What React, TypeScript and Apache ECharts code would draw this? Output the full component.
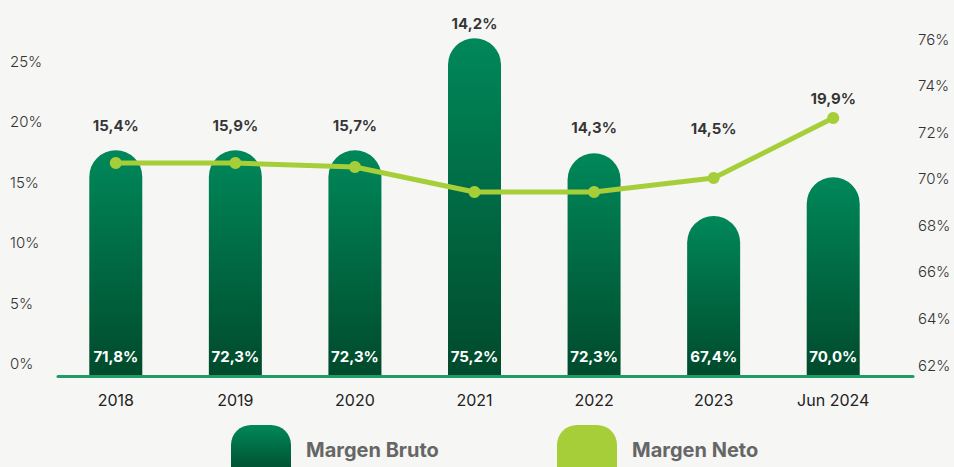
import React, { useEffect, useRef } from 'react';
import * as echarts from 'echarts';

// Categories
const categories = ['2018', '2019', '2020', '2021', '2022', '2023', 'Jun 2024'];
// Values printed on the chart
const margenBruto = [71.8, 72.3, 72.3, 75.2, 72.3, 67.4, 70.0];
const margenNeto = [15.4, 15.9, 15.7, 14.2, 14.3, 14.5, 19.9];
// Heights as drawn in the picture (for bars, left axis for line)
const brutoBarLevels = [71.23, 71.23, 71.23, 76.04, 71.1, 68.4, 70.07];
const netoLinePoints = [16.59, 16.59, 16.26, 14.2, 14.2, 15.35, 20.31];
// Where the Margen Neto value labels sit
const netoLabelLevels = [19.65, 19.65, 19.65, 28.15, 19.56, 19.48, 21.88];
// Tick labels
const leftTicks = [0, 5, 10, 15, 20, 25];
const rightTicks = [62, 64, 66, 68, 70, 72, 74, 76];

const fmt = (v: number) => v.toFixed(1).replace('.', ',') + '%';

export default function App() {
  const ref = useRef<HTMLDivElement>(null);
  useEffect(() => {
    if (!ref.current) return;
    const chart = echarts.init(ref.current, null, { renderer: 'svg' });
    const barGradient = () =>
      new echarts.graphic.LinearGradient(0, 0, 0, 1, [
        { offset: 0, color: '#00885a' },
        { offset: 1, color: '#004a2c' },
      ]);
    const lime = '#a6ce39';
    const font = 'Inter, "Noto Sans", sans-serif';
    const legendIcon = 'path://M0,20 A20,20 0 0 1 20,0 L40,0 A20,20 0 0 1 60,20 L60,50 L0,50 Z';
    const legendText = { color: '#666', fontSize: 20, fontWeight: 'bold', fontFamily: font, padding: [0, 0, 0, 10] };
    chart.setOption({
      animation: false,
      backgroundColor: '#f6f6f5',
      textStyle: { fontFamily: font },
      grid: [
        { left: 56, right: 61, top: 20, bottom: 91, outerBoundsMode: 'none' },
        { left: 58, right: 41, top: 20, bottom: 91, outerBoundsMode: 'none' },
      ],
      xAxis: [
        {
          type: 'category',
          gridIndex: 0,
          data: categories,
          axisLine: { show: false },
          axisTick: { show: false },
          axisLabel: { color: '#222', fontSize: 16, margin: 16, fontFamily: font },
        },
        {
          type: 'category',
          gridIndex: 1,
          data: [''],
          z: 10,
          axisLine: { show: true, lineStyle: { color: '#1f9b66', width: 3 } },
          axisTick: { show: false },
          axisLabel: { show: false },
        },
      ],
      yAxis: [
        {
          type: 'value',
          gridIndex: 0,
          min: -1,
          max: 28.4,
          splitLine: { show: false },
          axisLine: { show: false },
          axisTick: { show: false },
          axisLabel: {
            customValues: leftTicks,
            formatter: (v: number) => v + '%',
            align: 'left',
            margin: 46,
            color: '#333',
            fontSize: 15,
            fontWeight: 300,
            fontFamily: font,
          },
        },
        {
          type: 'value',
          gridIndex: 0,
          position: 'right',
          min: 61.53,
          max: 76.82,
          startValue: 61.53,
          splitLine: { show: false },
          axisLine: { show: false },
          axisTick: { show: false },
          axisLabel: {
            customValues: rightTicks,
            formatter: (v: number) => v + '%',
            align: 'left',
            margin: 25,
            color: '#333',
            fontSize: 15,
            fontWeight: 300,
            fontFamily: font,
          },
        },
        { type: 'value', gridIndex: 1, show: false, min: 0, max: 1 },
      ],
      legend: [
        {
          left: 231,
          top: 425,
          padding: 0,
          itemWidth: 60,
          itemHeight: 50,
          selectedMode: false,
          data: [{ name: 'Margen Bruto', icon: legendIcon }],
          textStyle: legendText,
        },
        {
          left: 557,
          top: 425,
          padding: 0,
          itemWidth: 60,
          itemHeight: 50,
          selectedMode: false,
          data: [{ name: 'Margen Neto', icon: legendIcon }],
          textStyle: legendText,
        },
      ],
      series: [
        {
          name: 'Margen Bruto',
          type: 'bar',
          xAxisIndex: 0,
          yAxisIndex: 1,
          data: brutoBarLevels,
          barWidth: 53,
          itemStyle: { color: barGradient(), borderRadius: [26.5, 26.5, 0, 0] },
          label: {
            show: true,
            position: 'insideBottom',
            distance: 12,
            formatter: (p: any) => fmt(margenBruto[p.dataIndex]),
            color: '#fff',
            fontSize: 15,
            fontWeight: 'bold',
            fontFamily: font,
          },
        },
        {
          name: 'Margen Neto',
          type: 'line',
          xAxisIndex: 0,
          yAxisIndex: 0,
          data: netoLinePoints,
          symbol: 'circle',
          symbolSize: 12,
          lineStyle: { color: lime, width: 5 },
          itemStyle: { color: lime },
          z: 3,
        },
        {
          name: 'netoLabels',
          type: 'scatter',
          xAxisIndex: 0,
          yAxisIndex: 0,
          data: netoLabelLevels,
          symbolSize: 1,
          silent: true,
          itemStyle: { color: 'rgba(0,0,0,0)' },
          label: {
            show: true,
            position: 'inside',
            formatter: (p: any) => fmt(margenNeto[p.dataIndex]),
            color: '#000',
            fontSize: 15,
            fontWeight: 'bold',
            fontFamily: font,
          },
          z: 4,
        },
      ],
    });
    return () => chart.dispose();
  }, []);
  return <div ref={ref} style={{ position: 'fixed', left: 0, top: 0, width: 954, height: 467 }} />;
}
